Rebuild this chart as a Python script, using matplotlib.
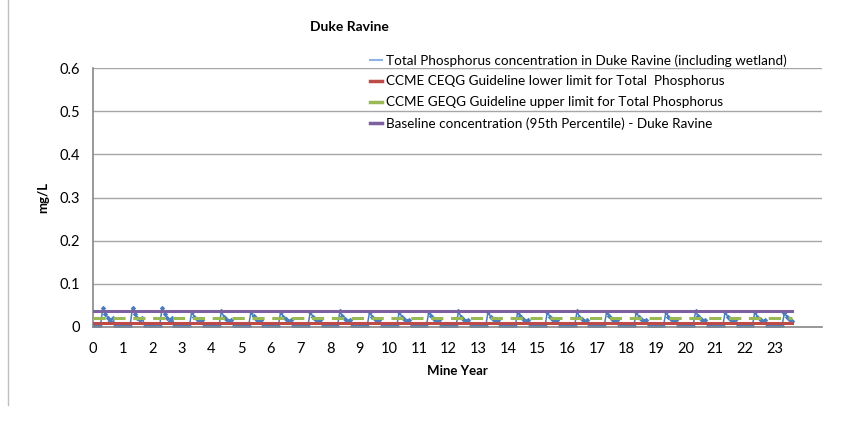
import matplotlib
matplotlib.use("Agg")
import matplotlib.pyplot as plt
from matplotlib.lines import Line2D
import numpy as np

plt.rcParams['font.family'] = ['Lato', 'DejaVu Sans']

# monthly total phosphorus (mg/L), one row per mine year
tp_by_year = [
    [0.002, 0.002, 0.003, 0.002, 0.045, 0.030, 0.022, 0.015, 0.020, 0.003, 0.002, 0.002],
    [0.002, 0.003, 0.002, 0.002, 0.045, 0.030, 0.022, 0.016, 0.020, 0.003, 0.002, 0.002],
    [0.002, 0.002, 0.002, 0.003, 0.045, 0.031, 0.022, 0.015, 0.021, 0.003, 0.002, 0.002],
    [0.002, 0.002, 0.003, 0.002, 0.035, 0.024, 0.018, 0.013, 0.016, 0.003, 0.002, 0.002],
    [0.002, 0.003, 0.002, 0.002, 0.036, 0.024, 0.018, 0.014, 0.016, 0.003, 0.002, 0.002],
    [0.002, 0.002, 0.002, 0.003, 0.035, 0.025, 0.019, 0.013, 0.017, 0.003, 0.002, 0.002],
    [0.002, 0.002, 0.003, 0.002, 0.035, 0.024, 0.018, 0.014, 0.016, 0.002, 0.002, 0.002],
    [0.002, 0.003, 0.002, 0.002, 0.035, 0.024, 0.019, 0.013, 0.016, 0.003, 0.002, 0.002],
    [0.002, 0.002, 0.002, 0.003, 0.036, 0.025, 0.018, 0.014, 0.017, 0.003, 0.002, 0.002],
    [0.002, 0.002, 0.003, 0.002, 0.035, 0.024, 0.018, 0.013, 0.016, 0.003, 0.002, 0.002],
    [0.002, 0.003, 0.002, 0.002, 0.035, 0.024, 0.019, 0.014, 0.016, 0.002, 0.002, 0.002],
    [0.002, 0.002, 0.002, 0.003, 0.035, 0.025, 0.018, 0.013, 0.017, 0.003, 0.002, 0.002],
    [0.002, 0.002, 0.003, 0.002, 0.036, 0.024, 0.018, 0.014, 0.016, 0.003, 0.002, 0.002],
    [0.002, 0.003, 0.002, 0.002, 0.035, 0.024, 0.019, 0.013, 0.016, 0.003, 0.002, 0.002],
    [0.002, 0.002, 0.002, 0.003, 0.035, 0.025, 0.018, 0.014, 0.017, 0.002, 0.002, 0.002],
    [0.002, 0.002, 0.003, 0.002, 0.035, 0.024, 0.018, 0.013, 0.016, 0.003, 0.002, 0.002],
    [0.002, 0.003, 0.002, 0.002, 0.036, 0.024, 0.019, 0.014, 0.016, 0.003, 0.002, 0.002],
    [0.002, 0.002, 0.002, 0.003, 0.035, 0.025, 0.018, 0.013, 0.017, 0.003, 0.002, 0.002],
    [0.002, 0.002, 0.003, 0.002, 0.035, 0.024, 0.018, 0.014, 0.016, 0.002, 0.002, 0.002],
    [0.002, 0.003, 0.002, 0.002, 0.035, 0.024, 0.019, 0.013, 0.016, 0.003, 0.002, 0.002],
    [0.002, 0.002, 0.002, 0.003, 0.036, 0.025, 0.018, 0.014, 0.017, 0.003, 0.002, 0.002],
    [0.002, 0.002, 0.003, 0.002, 0.035, 0.024, 0.018, 0.013, 0.016, 0.003, 0.002, 0.002],
    [0.002, 0.003, 0.002, 0.002, 0.035, 0.024, 0.019, 0.014, 0.016, 0.003, 0.002, 0.002],
    [0.002, 0.002, 0.002, 0.003, 0.033, 0.024, 0.018, 0.015],
]

ccme_lower = 0.010
ccme_upper = 0.020
baseline_95 = 0.037
x_ticks = list(range(0, 24))
y_ticks = [0, 0.1, 0.2, 0.3, 0.4, 0.5, 0.6]

labels = [
    "Total Phosphorus concentration in Duke Ravine (including wetland)",
    "CCME CEQG Guideline lower limit for Total  Phosphorus",
    "CCME GEQG Guideline upper limit for Total Phosphorus",
    "Baseline concentration (95th Percentile) - Duke Ravine",
]

x = []
y = []
for yr, row in enumerate(tp_by_year):
    for m, v in enumerate(row):
        x.append(yr + m / 12)
        y.append(v)
x = np.array(x)
y = np.array(y)

blue = '#4A7EBB'
red = '#BE4B48'
green = '#98B954'
purple = '#7D60A0'

fig = plt.figure(figsize=(8.43, 4.25), dpi=100)
ax = fig.add_axes([93 / 843, 1 - 327 / 425, 729 / 843, 259 / 425])

ax.plot(x, y, color=blue, lw=1.1, marker='D', ms=2.8, mew=0, zorder=2)
xs = [x[0], x[-1]]
ax.plot(xs, [ccme_lower] * 2, color=red, lw=2.2, zorder=3)
ax.plot(xs, [ccme_upper] * 2, color=green, lw=2.2, dashes=(4, 2.5), zorder=3)
ax.plot(xs, [baseline_95] * 2, color=purple, lw=2.2, zorder=3)

ax.set_xlim(0, 24.6)
ax.set_ylim(0, 0.6)
ax.set_xticks(x_ticks)
ax.set_yticks(y_ticks)
ax.set_yticklabels(['0'] + [str(v) for v in y_ticks[1:]])
ax.grid(axis='y', color='#A6A6A6', lw=1)
ax.set_axisbelow(True)
for s in ['top', 'right']:
    ax.spines[s].set_visible(False)
for s in ['left', 'bottom']:
    ax.spines[s].set_color('#888888')
    ax.spines[s].set_linewidth(1.2)
ax.tick_params(axis='both', length=0, labelsize=10.5)
ax.tick_params(axis='x', pad=11)
ax.tick_params(axis='y', pad=9)

ax.set_xlabel('Mine Year', fontsize=9.5, fontweight='bold', labelpad=6)
ax.set_ylabel('mg/L', fontsize=9.5, fontweight='bold', labelpad=8)
fig.text(0.414, 0.936, 'Duke Ravine', fontsize=10, fontweight='bold', ha='center', va='center')

handles = [
    Line2D([], [], color='#8EB4E3', lw=1.5),
    Line2D([], [], color=red, lw=2.5),
    Line2D([], [], color=green, lw=2.5),
    Line2D([], [], color=purple, lw=2.5),
]
ax.legend(handles, labels, loc='upper left', bbox_to_anchor=(0.372, 1.075), frameon=False,
          fontsize=9.7, handlelength=0.9, handletextpad=0.35, labelspacing=0.66, borderaxespad=0)

fig.add_artist(Line2D([8 / 843, 8 / 843], [1 - 405 / 425, 1.0], color='#BFBFBF', lw=1))

fig.savefig('out.png', dpi=100)
